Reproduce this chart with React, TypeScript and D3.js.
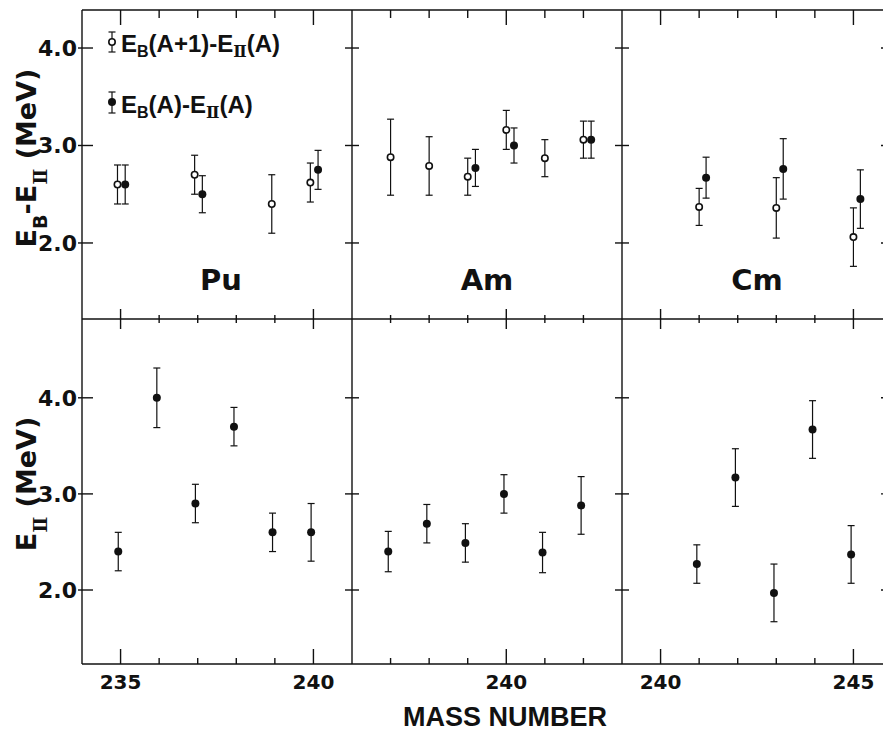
import React from 'react';
import * as d3 from 'd3';

// ---------- data ----------
const elements = ['Pu', 'Am', 'Cm'];
const massDomains: [number, number][] = [[234, 241], [236, 243], [239, 246]];
const massTickLabels = [[235, 240], [240], [240, 245]];
const energyTicks = [2.0, 3.0, 4.0];
const energyTickLabels = ['2.0', '3.0', '4.0'];
const topDomain: [number, number] = [1.22, 4.39];
const bottomDomain: [number, number] = [1.23, 4.82];

// [mass A, value (MeV), error (MeV)]
// top row, open: E_B(A+1) - E_II(A)
const puOpen = [[235, 2.6, 0.2], [237, 2.7, 0.2], [239, 2.4, 0.3], [240, 2.62, 0.2]];
const amOpen = [[237, 2.88, 0.39], [238, 2.79, 0.3], [239, 2.68, 0.19], [240, 3.16, 0.2], [241, 2.87, 0.19], [242, 3.06, 0.19]];
const cmOpen = [[241, 2.37, 0.19], [243, 2.36, 0.31], [245, 2.06, 0.3]];
// top row, filled: E_B(A) - E_II(A)
const puFilled = [[235, 2.6, 0.2], [237, 2.5, 0.19], [240, 2.75, 0.2]];
const amFilled = [[239, 2.77, 0.19], [240, 3.0, 0.18], [242, 3.06, 0.19]];
const cmFilled = [[241, 2.67, 0.21], [243, 2.76, 0.31], [245, 2.45, 0.3]];
// bottom row: E_II
const puEII = [[235, 2.4, 0.2], [236, 4.0, 0.31], [237, 2.9, 0.2], [238, 3.7, 0.2], [239, 2.6, 0.2], [240, 2.6, 0.3]];
const amEII = [[237, 2.4, 0.21], [238, 2.69, 0.2], [239, 2.49, 0.2], [240, 3.0, 0.2], [241, 2.39, 0.21], [242, 2.88, 0.3]];
const cmEII = [[241, 2.27, 0.2], [242, 3.17, 0.3], [243, 1.97, 0.3], [244, 3.67, 0.3], [245, 2.37, 0.3]];

const openSeries = [puOpen, amOpen, cmOpen];
const filledSeries = [puFilled, amFilled, cmFilled];
const eiiSeries = [puEII, amEII, cmEII];

// ---------- layout ----------
const W = 883, H = 735;
const LEFT = 82, PW = 270, TOP = 10, MID = 319, BOT = 664;
const openShift = [-0.08, 0, 0];
const filledShift = [0.12, 0.2, 0.18];
const bottomShift = -0.06;
const INK = '#111';
const SW = 1.4;
const DV = '"DejaVu Sans", sans-serif';
const DVS = '"DejaVu Serif", serif';
const LS = '"Liberation Sans", Arial, sans-serif';

const yTop = d3.scaleLinear().domain(topDomain).range([MID, TOP]);
const yBot = d3.scaleLinear().domain(bottomDomain).range([BOT, MID]);
const xScales = massDomains.map((dom, i) =>
  d3.scaleLinear().domain(dom).range([LEFT + i * PW, LEFT + (i + 1) * PW])
);
const RIGHT = LEFT + 3 * PW;

function ErrPoint({ x, y, lo, hi, open }: { x: number; y: number; lo: number; hi: number; open: boolean }) {
  const cap = 3.5;
  return (
    <g>
      <line x1={x} x2={x} y1={lo} y2={hi} stroke={INK} strokeWidth={1.2} />
      <line x1={x - cap} x2={x + cap} y1={lo} y2={lo} stroke={INK} strokeWidth={1.2} />
      <line x1={x - cap} x2={x + cap} y1={hi} y2={hi} stroke={INK} strokeWidth={1.2} />
      {open ? (
        <circle cx={x} cy={y} r={3.2} fill="#fff" stroke={INK} strokeWidth={1.6} />
      ) : (
        <circle cx={x} cy={y} r={4} fill={INK} />
      )}
    </g>
  );
}

export default function App() {
  const lines: React.ReactNode[] = [];
  let k = 0;
  const L = (x1: number, y1: number, x2: number, y2: number, w = SW) =>
    lines.push(<line key={'l' + k++} x1={x1} y1={y1} x2={x2} y2={y2} stroke={INK} strokeWidth={w} />);

  // frame
  L(LEFT, TOP, RIGHT, TOP);
  L(LEFT, MID, RIGHT, MID);
  L(LEFT, BOT, RIGHT, BOT);
  for (let i = 0; i <= 3; i++) L(LEFT + i * PW, TOP, LEFT + i * PW, BOT);

  // x ticks
  xScales.forEach((xs, i) => {
    const [d0, d1] = massDomains[i];
    for (let m = Math.ceil(d0) + 1; m < d1; m++) {
      const x = xs(m);
      const major = m % 5 === 0;
      L(x, TOP, x, TOP + (major ? 15 : 8));
      L(x, MID - (major ? 10 : 4), x, MID + (major ? 10 : 4));
      L(x, BOT - (major ? 15 : 6), x, BOT);
    }
  });

  // y ticks
  [yTop, yBot].forEach((ys) => {
    energyTicks.forEach((v) => {
      const y = ys(v);
      L(LEFT - 4, y, LEFT + 11, y);
      L(LEFT + PW - 7, y, LEFT + PW + 7, y);
      L(LEFT + 2 * PW - 7, y, LEFT + 2 * PW + 7, y);
      L(RIGHT - 11, y, RIGHT, y);
    });
  });

  const points: React.ReactNode[] = [];
  xScales.forEach((xs, i) => {
    openSeries[i].forEach(([m, v, e], j) =>
      points.push(<ErrPoint key={`o${i}-${j}`} x={xs(m + openShift[i])} y={yTop(v)} lo={yTop(v - e)} hi={yTop(v + e)} open />)
    );
    filledSeries[i].forEach(([m, v, e], j) =>
      points.push(<ErrPoint key={`f${i}-${j}`} x={xs(m + filledShift[i])} y={yTop(v)} lo={yTop(v - e)} hi={yTop(v + e)} open={false} />)
    );
    eiiSeries[i].forEach(([m, v, e], j) =>
      points.push(<ErrPoint key={`b${i}-${j}`} x={xs(m + bottomShift)} y={yBot(v)} lo={yBot(v - e)} hi={yBot(v + e)} open={false} />)
    );
  });

  const II = '\u2161';

  return (
    <svg width={W} height={H} style={{ position: 'absolute', left: 0, top: 0, background: '#fff' }}>
      <rect x={0} y={0} width={W} height={H} fill="#fff" />
      {lines}
      {points}

      {/* y tick labels */}
      {[yTop, yBot].map((ys, r) =>
        energyTicks.map((v, j) => (
          <text key={`yl${r}-${j}`} x={77} y={ys(v)} dy="0.36em" textAnchor="end"
            fontFamily={DV} fontWeight="bold" fontSize={22} fill={INK}>
            {energyTickLabels[j]}
          </text>
        ))
      )}

      {/* x tick labels */}
      {xScales.map((xs, i) =>
        massTickLabels[i].map((m) => (
          <text key={`xl${i}-${m}`} x={xs(m)} y={689} textAnchor="middle"
            fontFamily={DV} fontWeight="bold" fontSize={20} fill={INK}>
            {m}
          </text>
        ))
      )}

      {/* element labels */}
      {elements.map((el, i) => (
        <text key={el} x={LEFT + i * PW + PW / 2 + (i === 0 ? 4 : 0)} y={290} textAnchor="middle"
          fontFamily={DV} fontWeight="bold" fontSize={29} fill={INK}>
          {el}
        </text>
      ))}

      {/* legend */}
      <ErrPoint x={112} y={42} lo={52} hi={32} open />
      <ErrPoint x={112} y={102} lo={113} hi={92} open={false} />
      <text x={121} y={52} fontFamily={LS} fontWeight="bold" fontSize={24} fill={INK}>
        E<tspan fontSize={16} dy={5}>B</tspan><tspan dy={-5}>(A+1)-E</tspan>
        <tspan fontFamily={DVS} fontSize={16} dy={5}>{II}</tspan><tspan dy={-5}>(A)</tspan>
      </text>
      <text x={121} y={113} fontFamily={LS} fontWeight="bold" fontSize={24} fill={INK}>
        E<tspan fontSize={16} dy={5}>B</tspan><tspan dy={-5}>(A)-E</tspan>
        <tspan fontFamily={DVS} fontSize={16} dy={5}>{II}</tspan><tspan dy={-5}>(A)</tspan>
      </text>

      {/* y axis titles */}
      <text transform="translate(36,158) rotate(-90)" textAnchor="middle"
        fontFamily={DV} fontWeight="bold" fontSize={27} fill={INK}>
        E<tspan fontSize={19} dy={11}>B</tspan><tspan dy={-11}>-E</tspan>
        <tspan fontFamily={DVS} fontSize={19} dy={11}>{II}</tspan><tspan dy={-11}>{'\u00a0(MeV)'}</tspan>
      </text>
      <text transform="translate(36,484) rotate(-90)" textAnchor="middle"
        fontFamily={DV} fontWeight="bold" fontSize={27} fill={INK}>
        E<tspan fontFamily={DVS} fontSize={19} dy={11}>{II}</tspan><tspan dy={-11}>{'\u00a0(MeV)'}</tspan>
      </text>

      {/* x axis title */}
      <text x={505} y={726} textAnchor="middle" fontFamily={LS} fontWeight="bold" fontSize={27} fill={INK}>
        MASS NUMBER
      </text>
    </svg>
  );
}
